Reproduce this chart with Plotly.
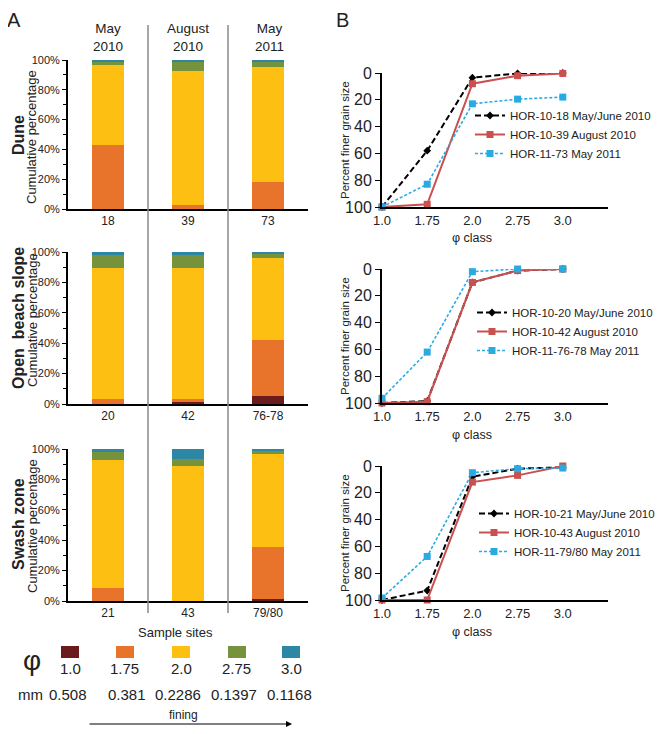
import plotly.graph_objects as go

# the page body adds an 8px margin, so the figure is drawn 8px smaller and shifted
OFF = 8
W, H = 664 - OFF, 734 - OFF
def px(x): return (x - OFF) / W
def py(y): return 1 - (y - OFF) / H

FONT = "Liberation Sans, Arial, sans-serif"

# ---------------- data ----------------
phi_classes = ["1.0", "1.75", "2.0", "2.75", "3.0"]
mm_sizes = ["0.508", "0.381", "0.2286", "0.1397", "0.1168"]
class_colors = ["#6a1c1c", "#e8732a", "#fcbf12", "#77923c", "#2b87a3"]

dates = ["May<br>2010", "August<br>2010", "May<br>2011"]
pct_ticks = [0, 20, 40, 60, 80, 100]
pct_labels = ["0%", "20%", "40%", "60%", "80%", "100%"]
fine_ticks = [0, 20, 40, 60, 80, 100]

# percentage per phi class (rows: 1.0, 1.75, 2.0, 2.75, 3.0), columns: sites
dune_sites = ["18", "39", "73"]
dune_pct = [[0, 0, 0], [43, 3, 18], [53.5, 89.5, 77.5], [2.5, 6, 3.3], [1, 1.5, 1.2]]

open_sites = ["20", "42", "76-78"]
open_pct = [[0, 1.2, 5.3], [3.3, 2.1, 36.7], [86, 86, 54], [8.5, 8.5, 2.7], [2.2, 2.2, 1.3]]

swash_sites = ["21", "43", "79/80"]
swash_pct = [[0, 0, 1.5], [8.3, 0, 34], [84.2, 88.5, 61.3], [5.7, 5, 2.4], [1.8, 6.5, 0.8]]

# percent finer grain size per phi class
b1_names = ["HOR-10-18 May/June 2010", "HOR-10-39 August 2010", "HOR-11-73 May 2011"]
b1_black = [100, 58, 3.5, 0.3, 0]
b1_red = [100, 98, 8, 2, 0.3]
b1_blue = [100, 83, 23, 19.5, 18]

b2_names = ["HOR-10-20 May/June 2010", "HOR-10-42 August 2010", "HOR-11-76-78 May 2011"]
b2_black = [100, 98.5, 10, 1.2, 0]
b2_red = [100, 99, 10, 1.2, 0]
b2_blue = [96.5, 62, 2, 0, 0]

b3_names = ["HOR-10-21 May/June 2010", "HOR-10-43 August 2010", "HOR-11-79/80 May 2011"]
b3_black = [100, 93, 8, 2, 1]
b3_red = [100, 100, 12, 7, 0]
b3_blue = [98.5, 67.5, 5, 2, 1.5]

fig = go.Figure()

# ---------------- panel A: stacked bars ----------------
row_labels = ["Dune", "Open  beach slope", "Swash zone"]
a_panels = [(dune_sites, dune_pct, 60, 209, 135),
            (open_sites, open_pct, 252, 404, 318),
            (swash_sites, swash_pct, 449, 601, 524)]

layout_axes = {}
for i, (sites, pct, top, bot, mid) in enumerate(a_panels):
    n = "" if i == 0 else str(i + 1)
    for k in range(5):
        fig.add_trace(go.Bar(x=sites, y=pct[k], name="φ " + phi_classes[k],
                             marker=dict(color=class_colors[k], line=dict(width=0)),
                             width=0.4, xaxis="x" + n, yaxis="y" + n, showlegend=False))
    layout_axes["xaxis" + n] = dict(domain=[px(68), px(308)], anchor="y" + n, type="category",
                                    range=[-0.5, 2.5], showline=True, linecolor="black", linewidth=1.5,
                                    ticks="", showgrid=False, zeroline=False, automargin=False,
                                    tickfont=dict(size=12, color="#222"))
    layout_axes["yaxis" + n] = dict(domain=[py(bot), py(top)], anchor="x" + n, range=[0, 100],
                                    tickmode="array", tickvals=pct_ticks, ticktext=pct_labels,
                                    ticks="outside", ticklen=4, tickcolor="black",
                                    minor=dict(tickvals=[10, 30, 50, 70, 90], ticks="outside",
                                               ticklen=3, tickcolor="black"),
                                    showline=True, linecolor="black", linewidth=2,
                                    showgrid=False, zeroline=False, automargin=False,
                                    tickfont=dict(size=11, color="#222"))

# ---------------- panel B: lines ----------------
b_panels = [(b1_names, b1_black, b1_red, b1_blue, 73, 207),
            (b2_names, b2_black, b2_red, b2_blue, 269, 403),
            (b3_names, b3_black, b3_red, b3_blue, 466, 600)]
legend_tops = [101, 298, 499]
legend_x = [470, 472, 474]

for j, (names, blk, red, blu, top, bot) in enumerate(b_panels):
    n = str(j + 4)
    lg = "legend" if j == 0 else "legend" + str(j + 1)
    fig.add_trace(go.Scatter(x=phi_classes, y=blk, name=names[0], mode="lines+markers",
                             line=dict(color="black", width=2, dash="6px,3px"),
                             marker=dict(symbol="diamond", size=6, color="black"),
                             xaxis="x" + n, yaxis="y" + n, legend=lg, cliponaxis=False))
    fig.add_trace(go.Scatter(x=phi_classes, y=red, name=names[1], mode="lines+markers",
                             line=dict(color="#c9504f", width=2),
                             marker=dict(symbol="square", size=7, color="#c9504f"),
                             xaxis="x" + n, yaxis="y" + n, legend=lg, cliponaxis=False))
    fig.add_trace(go.Scatter(x=phi_classes, y=blu, name=names[2], mode="lines+markers",
                             line=dict(color="#29abe2", width=1.6, dash="3px,2px"),
                             marker=dict(symbol="square", size=7, color="#29abe2"),
                             xaxis="x" + n, yaxis="y" + n, legend=lg, cliponaxis=False))
    layout_axes["xaxis" + n] = dict(domain=[px(382), px(608)], anchor="y" + n, type="category",
                                    range=[0, 5], showline=True, linecolor="black", linewidth=2,
                                    ticks="", showgrid=False, zeroline=False, automargin=False,
                                    tickfont=dict(size=13, color="#222"))
    layout_axes["yaxis" + n] = dict(domain=[py(bot), py(top)], anchor="x" + n, range=[100, 0],
                                    tickvals=fine_ticks, ticks="outside", ticklen=5,
                                    tickcolor="black", showline=True, linecolor="black", linewidth=2,
                                    showgrid=False, zeroline=False, automargin=False,
                                    tickfont=dict(size=16, color="#222"))
    layout_axes[lg] = dict(x=px(legend_x[j]), y=py(legend_tops[j]), xanchor="left", yanchor="top",
                           bgcolor="rgba(0,0,0,0)", font=dict(size=11.5, color="#222"),
                           itemwidth=30, tracegroupgap=0, traceorder="normal")

# ---------------- annotations ----------------
ann = []
def text(x, y, s, size, **kw):
    d = dict(x=px(x), y=py(y), xref="paper", yref="paper", text=s, showarrow=False,
             xanchor="center", yanchor="middle",
             font=dict(size=size, color=kw.pop("color", "#222"), family=FONT))
    d.update(kw)
    ann.append(d)

text(14, 20, "A", 20)
text(342, 20, "B", 20)
for x, d in zip([108, 188, 269], dates):
    text(x, 38, d, 13.5)

for (sites, pct, top, bot, mid), lab in zip(a_panels, row_labels):
    text(18, mid, "<b>" + lab + "</b>", 16, textangle=-90)
    text(32, mid + 2, "Cumulative percentage", 13, textangle=-90)

text(175, 632, "Sample sites", 13)
text(32, 660, "φ", 28)
for x, c in zip([70, 124, 181, 237, 291], phi_classes):
    text(x, 668, c, 15)
text(30, 694, "mm", 15)
for x, m in zip([68, 127, 178, 234, 289], mm_sizes):
    text(x, 694, m, 15)
text(183, 715, "fining", 12)
ann.append(dict(x=px(292), y=py(724), xref="paper", yref="paper", ax=-204, ay=0,
                showarrow=True, arrowhead=2, arrowsize=1, arrowwidth=1.2, arrowcolor="black", text=""))

for (names, blk, red, blu, top, bot), xt in zip(b_panels, [238, 435, 632]):
    text(345, (top + bot) / 2, "Percent finer grain size", 11.5, textangle=-90)
    text(472, xt, "φ class", 12.5)

# ---------------- shapes ----------------
shapes = []
for x in [148, 228]:
    shapes.append(dict(type="line", xref="paper", yref="paper", x0=px(x), x1=px(x),
                       y0=py(25), y1=py(613), line=dict(color="#8a8a8a", width=1.5)))
for x, c in zip([70, 125, 181, 237, 291], class_colors):
    shapes.append(dict(type="rect", xref="paper", yref="paper", x0=px(x - 9), x1=px(x + 9),
                       y0=py(658), y1=py(646), line=dict(width=0), fillcolor=c))

fig.update_layout(
    width=W, height=H, margin=dict(l=0, r=0, t=0, b=0, pad=0, autoexpand=False),
    paper_bgcolor="white", plot_bgcolor="white",
    barmode="stack", font=dict(family=FONT, color="#222"),
    annotations=ann, shapes=shapes, **layout_axes)

fig.write_html("out.html")
